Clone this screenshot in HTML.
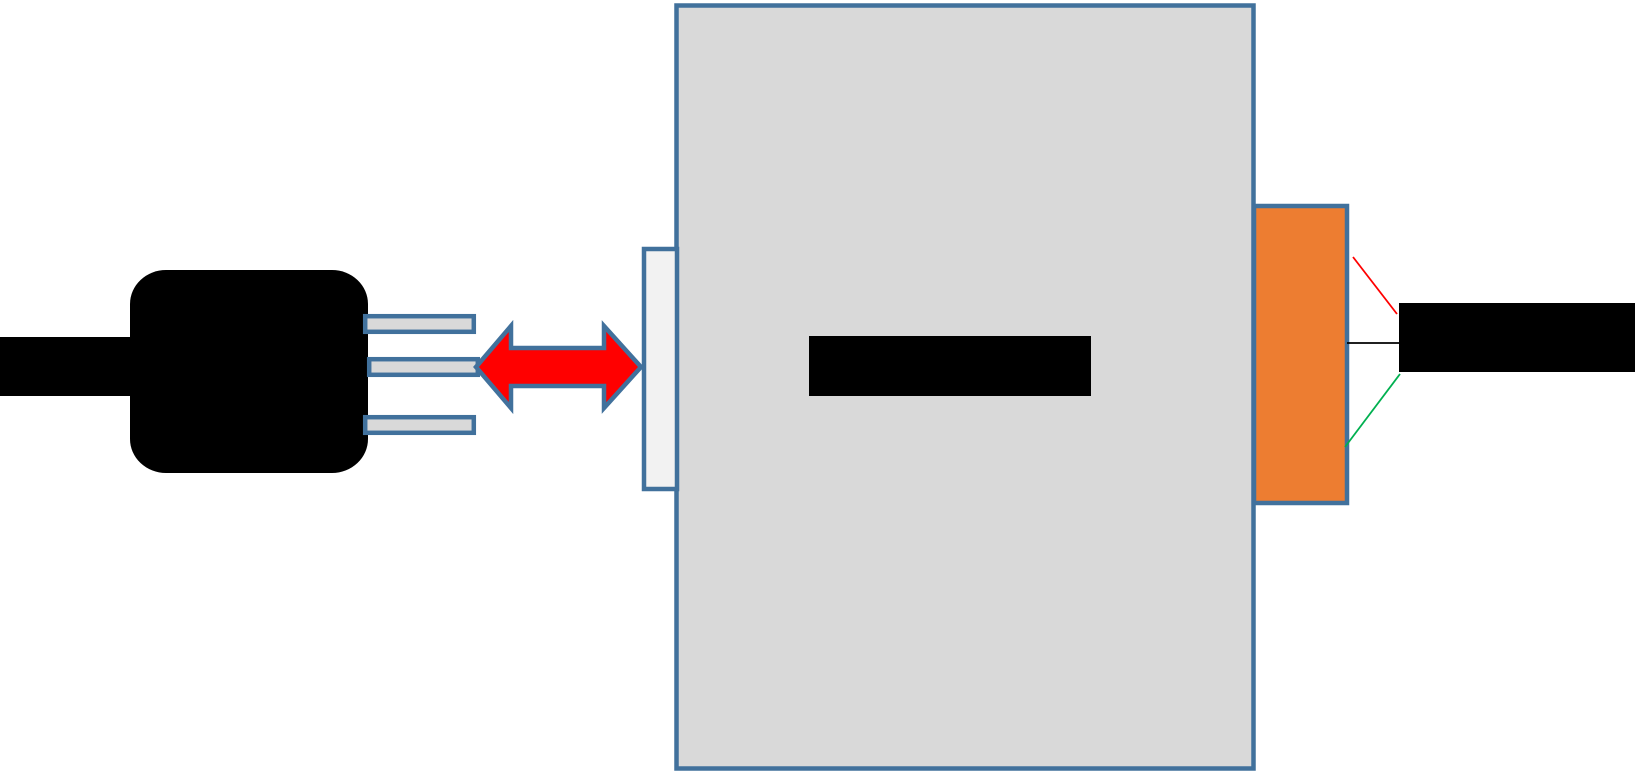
<!DOCTYPE html>
<html><head><meta charset="utf-8"><style>html,body{margin:0;padding:0;background:#fff;}svg{display:block}</style></head>
<body>
<svg width="1637" height="773" viewBox="0 0 1637 773" xmlns="http://www.w3.org/2000/svg">
<rect x="0" y="337" width="140" height="59" fill="#000"/>
<rect x="130" y="270" width="238" height="203" rx="36" ry="34" fill="#000"/>
<g fill="#d9d9d9" stroke="#41719c" stroke-width="4.5">
<rect x="365.2" y="316.2" width="108.6" height="15.6"/>
<rect x="369.2" y="359.2" width="108.6" height="15.6"/>
<rect x="365.2" y="417.2" width="108.6" height="15.6"/>
</g>
<rect x="676.5" y="5.5" width="577" height="763" fill="#d9d9d9" stroke="#41719c" stroke-width="4.5"/>
<rect x="644" y="249" width="33" height="240" fill="#f2f2f2" stroke="#41719c" stroke-width="4.5"/>
<polygon points="476,367 511,326 511,348 604,348 604,326 641,367 604,408 604,386 511,386 511,408" fill="#ff0000" stroke="#41719c" stroke-width="4.5" stroke-linejoin="miter"/>
<rect x="809" y="336" width="282" height="60" fill="#000"/>
<rect x="1254" y="206" width="93" height="297" fill="#ed7d31" stroke="#41719c" stroke-width="4.5"/>
<line x1="1353" y1="257" x2="1397" y2="314" stroke="#ff0000" stroke-width="1.8"/>
<line x1="1347" y1="343" x2="1400" y2="343" stroke="#000" stroke-width="1.8"/>
<line x1="1345" y1="447" x2="1400" y2="374" stroke="#00b050" stroke-width="1.8"/>
<rect x="1399" y="303" width="236" height="69" fill="#000"/>
</svg>
</body></html>
